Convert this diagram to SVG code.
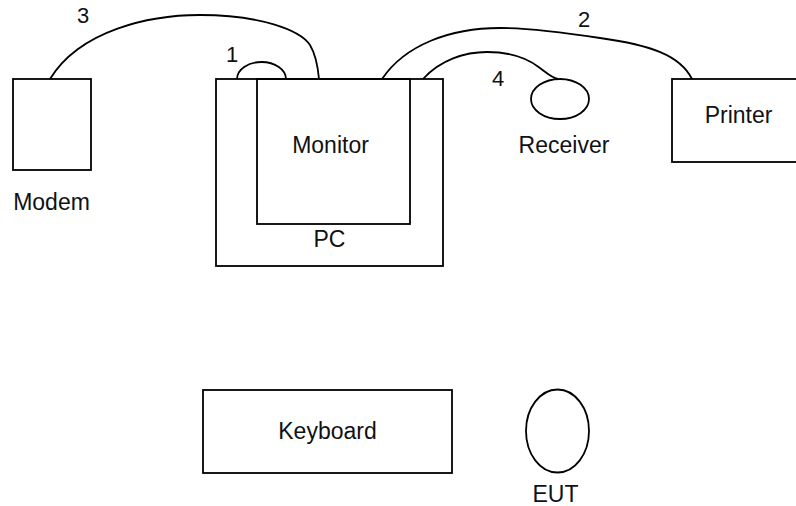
<svg xmlns="http://www.w3.org/2000/svg" width="796" height="506" viewBox="0 0 796 506">
<style>
.s{fill:none;stroke:#000;stroke-width:1.8}
.t{font-family:"Liberation Sans",Arial,sans-serif;font-size:23px;fill:#111;text-anchor:middle}
.n{font-family:"Liberation Sans",Arial,sans-serif;font-size:22px;fill:#111;text-anchor:middle}
</style>
<rect width="796" height="506" fill="#fff"/>
<g id="connectors">
<path id="c3" class="s" d="M50,79 C80,30 150,15 200,15 C260,15 300,30 310,45 C316,55 318,68 319,79"/>
<path id="c1" class="s" d="M237,79 A24.5,17 0 0 1 286,79"/>
<path id="c2" class="s" d="M382,79 C405,45 450,28 500,28 C530,28 560,32 600,38 C650,45 680,55 692,79"/>
<path id="c4" class="s" d="M423,79 C440,60 465,52 487,52 C515,52 530,60 540,68 C548,74 552,78 558,79"/>
<text class="n" x="232" y="62">1</text>
<text class="n" x="83" y="23">3</text>
<text class="n" x="584" y="27">2</text>
<text class="n" x="498" y="86">4</text>
</g>
<g id="modem">
<rect class="s" x="13" y="79" width="78" height="91"/>
<text class="t" x="51.5" y="210">Modem</text>
</g>
<g id="pc">
<rect class="s" x="216" y="79" width="227" height="187"/>
<text class="t" x="329.5" y="247">PC</text>
</g>
<g id="monitor">
<rect class="s" x="257" y="79" width="153" height="145"/>
<text class="t" x="330.5" y="153">Monitor</text>
</g>
<g id="receiver">
<ellipse class="s" cx="560" cy="99" rx="29" ry="20"/>
<text class="t" x="564" y="153">Receiver</text>
</g>
<g id="printer">
<rect class="s" x="672" y="79" width="130" height="83"/>
<text class="t" x="738.5" y="123">Printer</text>
</g>
<g id="keyboard">
<rect class="s" x="203" y="390" width="249" height="83"/>
<text class="t" x="327.5" y="439">Keyboard</text>
</g>
<g id="eut">
<ellipse class="s" cx="557.5" cy="431" rx="31.5" ry="41.5"/>
<text class="t" x="555.5" y="502">EUT</text>
</g>
</svg>
